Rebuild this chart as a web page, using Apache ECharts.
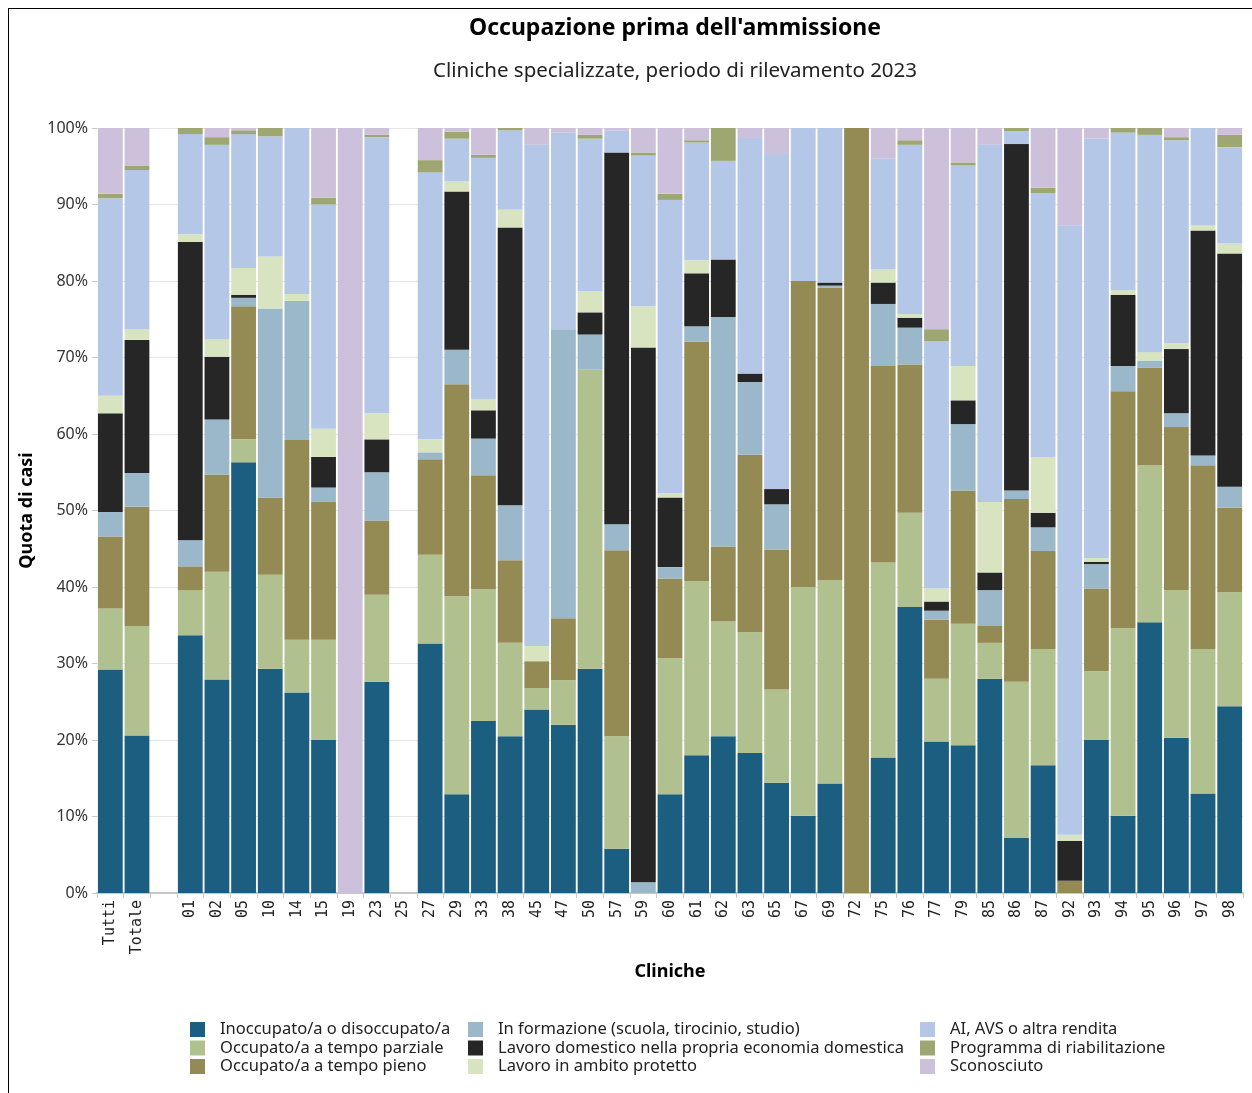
<!DOCTYPE html>
<html>
<head>
<meta charset="utf-8">
<script src="https://cdn.jsdelivr.net/npm/echarts@6/dist/echarts.min.js"></script>
<style>
html,body{margin:0;padding:0;background:#fff;}
#frame{position:absolute;left:8px;top:8px;width:1244px;height:1085px;border-left:1px solid #000;border-top:1px solid #000;box-sizing:border-box;pointer-events:none;z-index:2;}
#chart{position:absolute;left:0;top:0;width:1252px;height:1093px;}
</style>
</head>
<body>
<div id="chart"></div>
<div id="frame"></div>
<script>
const categories = ['Tutti','Totale','','01','02','05','10','14','15','19','23','25','27','29','33','38','45','47','50','57','59','60','61','62','63','65','67','69','72','75','76','77','79','85','86','87','92','93','94','95','96','97','98'];

const inoccupato = [29.2,20.6,null,33.7,27.9,56.3,29.3,26.2,20.0,0,27.6,null,32.6,12.9,22.5,20.5,24.0,22.0,29.3,5.8,0,12.9,18.0,20.5,18.3,14.4,10.1,14.3,0,17.7,37.4,19.8,19.3,28.0,7.2,16.7,0,20.0,10.1,35.4,20.3,13.0,24.4];
const parziale = [8.0,14.3,null,5.9,14.1,3.0,12.3,6.9,13.1,0,11.4,null,11.6,25.9,17.2,12.2,2.8,5.8,39.1,14.7,0,17.8,22.8,15.0,15.8,12.2,29.9,26.6,0,25.5,12.3,8.2,15.9,4.7,20.4,15.2,0,9.0,24.5,20.5,19.3,18.9,14.9];
const pieno = [9.4,15.6,null,3.1,12.7,17.4,10.1,26.1,18.0,0,9.7,null,12.5,27.7,14.9,10.8,3.5,8.1,0,24.3,0,10.4,31.3,9.8,23.2,18.3,40.0,38.2,100,25.7,19.4,7.7,17.4,2.2,23.9,12.8,1.6,10.8,31.0,12.8,21.3,24.0,11.1];
const formazione = [3.2,4.4,null,3.4,7.2,1.1,24.7,18.2,1.9,0,6.3,null,0.9,4.5,4.8,7.2,0,37.8,4.6,3.4,1.4,1.5,2.0,30.0,9.5,5.9,0,0.3,0,8.1,4.8,1.2,8.7,4.7,1.1,3.1,0,3.2,3.3,0.9,1.8,1.3,2.7];
const domestico = [12.9,17.4,null,39.0,8.2,0.4,0,0,4.0,0,4.3,null,0,20.7,3.7,36.3,0,0,2.9,48.6,69.9,9.1,6.9,7.5,1.1,2.0,0,0.4,0,2.8,1.3,1.2,3.1,2.3,45.3,1.9,5.2,0.3,9.3,0,8.4,29.4,30.5];
const protetto = [2.3,1.4,null,1.0,2.3,3.5,6.8,0.9,3.7,0,3.4,null,1.7,1.3,1.4,2.3,2.0,0,2.8,0,5.4,0.6,1.7,0,0,0,0,0,0,1.7,0.5,1.7,4.5,9.2,0,7.3,0.8,0.5,0.6,1.1,0.8,0.7,1.3];
const rendita = [25.8,20.8,null,13.1,25.4,17.5,15.7,21.7,29.3,0,36.1,null,34.9,5.6,31.6,10.4,65.5,25.7,19.9,2.9,19.7,38.3,15.4,12.9,30.8,43.8,20.0,20.2,0,14.5,22.1,32.3,26.2,46.7,1.7,34.5,79.7,54.8,20.6,28.4,26.5,12.7,12.6];
const riabilitazione = [0.6,0.6,null,0.8,1.0,0.5,1.1,0,0.9,0,0.3,null,1.6,0.9,0.4,0.3,0,0,0.5,0,0.4,0.8,0.3,4.3,0,0,0,0,0,0,0.6,1.6,0.4,0,0.4,0.7,0,0,0.6,0.9,0.4,0,1.6];
const sconosciuto = [8.6,4.9,null,0,1.2,0.3,0,0,9.1,100,0.9,null,4.2,0.5,3.5,0,2.2,0.6,0.9,0.3,3.2,8.6,1.6,0,1.3,3.4,0,0,0,4.0,1.6,26.3,4.5,2.2,0,7.8,12.7,1.4,0,0,1.2,0,0.9];

const seriesNames = [
  'Inoccupato/a o disoccupato/a',
  'Occupato/a a tempo parziale',
  'Occupato/a a tempo pieno',
  'In formazione (scuola, tirocinio, studio)',
  'Lavoro domestico nella propria economia domestica',
  'Lavoro in ambito protetto',
  'AI, AVS o altra rendita',
  'Programma di riabilitazione',
  'Sconosciuto'
];
const seriesData = [inoccupato, parziale, pieno, formazione, domestico, protetto, rendita, riabilitazione, sconosciuto];
const colors = ['#1b5e80','#b0c08f','#948a54','#9ab8ca','#262626','#d8e4bf','#b4c7e7','#9ea771','#ccc0da'];

const chart = echarts.init(document.getElementById('chart'), null, {renderer:'canvas'});
const font = "'Noto Sans', sans-serif";
const legendCommon = {
  orient:'vertical', top:1016, itemWidth:15, itemHeight:15, itemGap:1.5, icon:'rect',
  selectedMode:false,
  textStyle:{fontFamily:font, fontSize:16.5, lineHeight:15, color:'#222', padding:[0,0,0,10]}
};
const option = {
  animation:false,
  color: colors,
  title:[
    {text:"Occupazione prima dell'ammissione", left:670, top:12, textAlign:'center',
     textStyle:{fontFamily:font, fontSize:23, fontWeight:'bold', color:'#000'}},
    {text:'Cliniche specializzate, periodo di rilevamento 2023', left:670, top:56, textAlign:'center',
     textStyle:{fontFamily:font, fontSize:20.5, fontWeight:'normal', color:'#222'}}
  ],
  legend:[
    Object.assign({left:185, data:seriesNames.slice(0,3)}, legendCommon),
    Object.assign({left:463, data:seriesNames.slice(3,6)}, legendCommon),
    Object.assign({left:915, data:seriesNames.slice(6,9)}, legendCommon)
  ],
  grid:{left:97, right:9, top:128, bottom:200, containLabel:false},
  xAxis:{
    type:'category', data:categories,
    name:'Cliniche', nameLocation:'middle', nameGap:70,
    nameTextStyle:{fontFamily:font, fontSize:18, fontWeight:'bold', color:'#000'},
    axisLine:{lineStyle:{color:'#c8c8c8', width:2}},
    axisTick:{show:true, alignWithLabel:false, length:5, lineStyle:{color:'#c8c8c8'}},
    axisLabel:{rotate:90, interval:0, margin:7, fontFamily:"'DejaVu Sans Mono', monospace", fontSize:15, color:'#222'}
  },
  yAxis:{
    type:'value', min:0, max:100, interval:10,
    name:'Quota di casi', nameLocation:'middle', nameGap:58, nameRotate:90,
    nameTextStyle:{fontFamily:font, fontSize:18, fontWeight:'bold', color:'#000'},
    axisLine:{show:false},
    axisTick:{show:true, length:5, lineStyle:{color:'#c8c8c8'}},
    axisLabel:{formatter:'{value}%', fontFamily:font, fontSize:16, color:'#333', margin:9},
    splitLine:{lineStyle:{color:'#e6e6e6', width:1}}
  },
  series: seriesNames.map((n,i)=>({
    name:n, type:'bar', stack:'total', data:seriesData[i],
    barCategoryGap:'7%',
    itemStyle:{color:colors[i]}
  }))
};
chart.setOption(option);
</script>
</body>
</html>
